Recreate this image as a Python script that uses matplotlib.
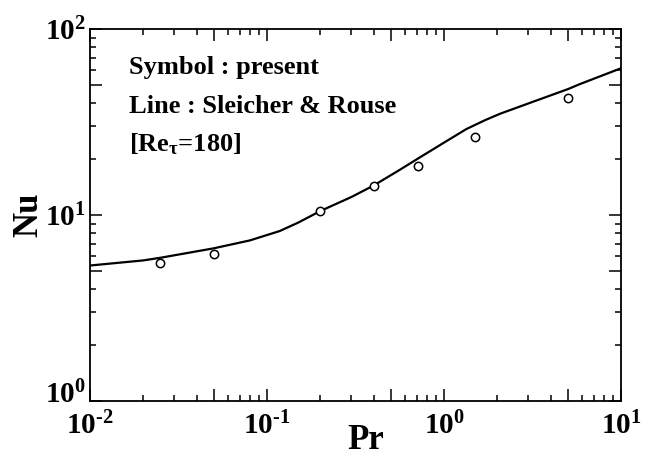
import matplotlib
matplotlib.use("Agg")
import matplotlib.pyplot as plt
import matplotlib.transforms as mtransforms
import numpy as np
from matplotlib.ticker import LogLocator, FuncFormatter, NullFormatter

# --- data -------------------------------------------------------------
pr_present = [0.025, 0.05, 0.2, 0.4, 0.71, 1.5, 5.0]
nu_present = [5.5, 6.2, 10.5, 14.4, 18.4, 26.4, 42.6]

pr_sr = [0.01, 0.02, 0.025, 0.05, 0.08, 0.118, 0.15, 0.2, 0.3, 0.4, 0.563,
         0.73, 0.871, 1.0, 1.34, 1.7, 2.07, 3.2, 5.04, 5.87, 10.0]
nu_sr = [5.35, 5.7, 5.89, 6.62, 7.3, 8.2, 9.1, 10.5, 12.5, 14.4, 17.5,
         20.4, 22.6, 24.5, 29.0, 32.3, 35.0, 40.7, 47.6, 50.6, 61.5]

xlim = (1e-2, 1e1)
ylim = (1e0, 1e2)

# --- style ------------------------------------------------------------
plt.rcParams['font.family'] = ['Liberation Serif', 'DejaVu Serif']
plt.rcParams['font.weight'] = 'bold'
plt.rcParams['mathtext.fontset'] = 'custom'
plt.rcParams['mathtext.rm'] = 'Liberation Serif:bold'
plt.rcParams['mathtext.bf'] = 'Liberation Serif:bold'
plt.rcParams['mathtext.it'] = 'Liberation Serif:bold'

W, H = 666, 457
fig = plt.figure(figsize=(W / 100, H / 100), dpi=100)
ax = fig.add_axes([90 / W, 1 - 401 / H, 531 / W, 372 / H])

ax.plot(pr_sr, nu_sr, color='black', lw=1.6)
ax.plot(pr_present, nu_present, linestyle='none', marker='o', ms=6,
        mfc='white', mec='black', mew=1.1)

ax.set_xscale('log')
ax.set_yscale('log')
ax.set_xlim(*xlim)
ax.set_ylim(*ylim)


def fmt(v, pos):
    e = np.log10(v)
    if abs(e - round(e)) < 1e-6:
        n = int(round(e))
        s = ('\u2010%d' % (-n)) if n < 0 else '%d' % n
        return r'$\mathbf{10^{%s}}$' % s
    return ''


for axis in (ax.xaxis, ax.yaxis):
    axis.set_major_locator(LogLocator(base=10, subs=(1.0, 5.0)))
    axis.set_minor_locator(LogLocator(base=10, subs=(2, 3, 4, 6, 7, 8, 9)))
    axis.set_major_formatter(FuncFormatter(fmt))
    axis.set_minor_formatter(NullFormatter())

ax.tick_params(which='both', direction='in', top=True, right=True, width=1.1)
ax.tick_params(which='major', length=8.5, labelsize=21)
ax.tick_params(which='minor', length=4.2)
ax.tick_params(axis='x', which='major', pad=8)
ax.tick_params(axis='y', which='major', pad=3)

for s in ax.spines.values():
    s.set_linewidth(1.3)

ax.set_ylabel('Nu', fontsize=25, fontweight='bold', labelpad=0)
fig.text(366 / W, 1 - 449 / H, 'Pr', fontsize=25, fontweight='bold',
         ha='center', va='baseline')

tx = (129 - 90) / 531
ax.text(tx, (401 - 74) / 372, 'Symbol : present', transform=ax.transAxes,
        fontsize=19, fontweight='bold', va='baseline', ha='left')
ax.text(tx, (401 - 113) / 372, 'Line : Sleicher & Rouse', transform=ax.transAxes,
        fontsize=19, fontweight='bold', va='baseline', ha='left')
ax.text(tx, (401 - 151) / 372, '[Re$_{\u03c4}$=180]', transform=ax.transAxes,
        fontsize=19, fontweight='bold', va='baseline', ha='left')

# lift the lowest y label a little, as in the reference
fig.canvas.draw()
locs = ax.yaxis.get_majorticklocs()
idx = int(np.argmin(np.abs(np.asarray(locs) - 1.0)))
lab = ax.yaxis.get_major_ticks()[idx].label1
lab.set_transform(lab.get_transform() +
                  mtransforms.ScaledTranslation(0, 9 / 100, fig.dpi_scale_trans))

fig.savefig('out.png', dpi=100)
